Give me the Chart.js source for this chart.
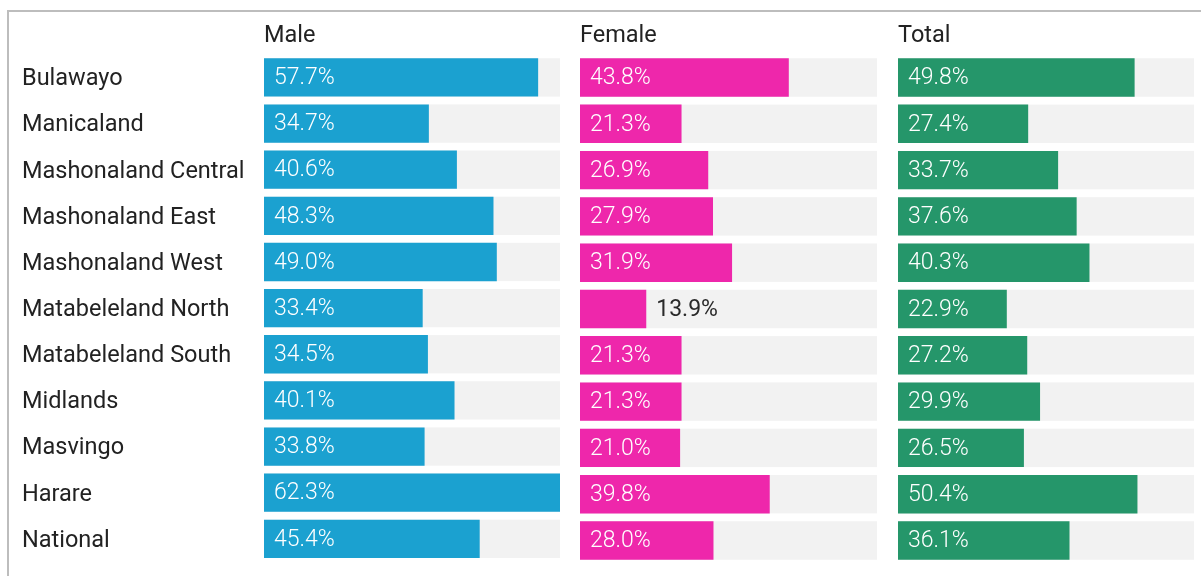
<!DOCTYPE html>
<html>
<head>
<meta charset="utf-8">
<script src="https://cdn.jsdelivr.net/npm/chart.js@4.4.1/dist/chart.umd.min.js"></script>
<style>
  html, body { margin: 0; padding: 0; background: #fff; }
  #wrap { position: relative; width: 1201px; height: 576px; overflow: hidden; background: #fff; }
  #frame { position: absolute; left: 7px; top: 10px; width: 1300px; height: 700px;
           border-top: 2px solid #bdbdbd; border-left: 2px solid #bdbdbd; box-sizing: border-box; }
  canvas { position: absolute; left: 0; top: 0; }
</style>
</head>
<body>
<div id="wrap">
  <div id="frame"></div>
  <canvas id="c1" width="1201" height="576"></canvas>
  <canvas id="c2" width="1201" height="576"></canvas>
  <canvas id="c3" width="1201" height="576"></canvas>
</div>
<script>
const categories = ["Bulawayo", "Manicaland", "Mashonaland Central", "Mashonaland East", "Mashonaland West",
  "Matabeleland North", "Matabeleland South", "Midlands", "Masvingo", "Harare", "National"];
const male   = [57.7, 34.7, 40.6, 48.3, 49.0, 33.4, 34.5, 40.1, 33.8, 62.3, 45.4];
const female = [43.8, 21.3, 26.9, 27.9, 31.9, 13.9, 21.3, 21.3, 21.0, 39.8, 28.0];
const total  = [49.8, 27.4, 33.7, 37.6, 40.3, 22.9, 27.2, 29.9, 26.5, 50.4, 36.1];
const panelTitles = ["Male", "Female", "Total"];

const scaleMax = Math.max(...male, ...female, ...total);
const FONT = "Roboto, 'Noto Sans', sans-serif";

const trackPlugin = {
  id: 'track',
  beforeDatasetsDraw(chart) {
    const ctx = chart.ctx;
    const xs = chart.scales.x;
    const meta = chart.getDatasetMeta(0);
    ctx.save();
    ctx.fillStyle = '#f2f2f2';
    const x0 = xs.getPixelForValue(0), x1 = xs.getPixelForValue(scaleMax);
    meta.data.forEach(bar => {
      const h = bar.height;
      ctx.fillRect(x0, bar.y - h / 2, x1 - x0, h);
    });
    ctx.restore();
  }
};

const labelPlugin = {
  id: 'vlabels',
  afterDatasetsDraw(chart, args, opts) {
    const ctx = chart.ctx;
    const meta = chart.getDatasetMeta(0);
    const data = chart.data.datasets[0].data;
    ctx.save();
    ctx.font = "300 23px " + FONT;
    ctx.textBaseline = 'middle';
    ctx.textAlign = 'left';
    meta.data.forEach((bar, i) => {
      const txt = data[i].toFixed(1) + '%';
      const w = ctx.measureText(txt).width;
      const left = bar.base, right = bar.x;
      if (w + 20 <= right - left) {
        ctx.fillStyle = '#ffffff';
        ctx.fillText(txt, left + 10, bar.y + 1);
      } else {
        ctx.fillStyle = '#2a2a2a';
        ctx.font = "23px " + FONT;
        ctx.fillText(txt, right + 10, bar.y + 1);
        ctx.font = "300 23px " + FONT;
      }
    });
    // panel title
    ctx.fillStyle = '#222222';
    ctx.font = "23.5px " + FONT;
    ctx.fillText(opts.title, chart.chartArea.left, 36);
    ctx.restore();
  }
};

function makeChart(id, values, color, title, padLeft, padRight, showLabels) {
  const yScale = {
    display: showLabels,
    grid: { display: false },
    border: { display: false },
    ticks: { crossAlign: 'far', color: '#222222', font: { family: FONT, size: 23.5 }, padding: 0, labelOffset: 2 }
  };
  if (showLabels) yScale.afterFit = (scale) => { scale.width = 242; };
  else yScale.afterFit = (scale) => { scale.width = 0; };
  return new Chart(document.getElementById(id), {
    type: 'bar',
    data: {
      labels: categories,
      datasets: [{ data: values, backgroundColor: color, borderWidth: 0,
                   categoryPercentage: 1.0, barPercentage: 0.83 }]
    },
    options: {
      indexAxis: 'y',
      responsive: false,
      animation: false,
      devicePixelRatio: 1,
      layout: { padding: { left: padLeft, right: padRight, top: 54.35, bottom: 12.35 } },
      plugins: {
        legend: { display: false },
        tooltip: { enabled: false },
        vlabels: { title: title }
      },
      scales: {
        x: { display: false, min: 0, max: scaleMax },
        y: yScale
      }
    },
    plugins: [trackPlugin, labelPlugin]
  });
}

makeChart('c1', male,   '#1ba1d0', panelTitles[0], 22, 641, true);
makeChart('c2', female, '#ee27ab', panelTitles[1], 580, 324, false);
makeChart('c3', total,  '#25966a', panelTitles[2], 898, 7, false);
</script>
</body>
</html>
